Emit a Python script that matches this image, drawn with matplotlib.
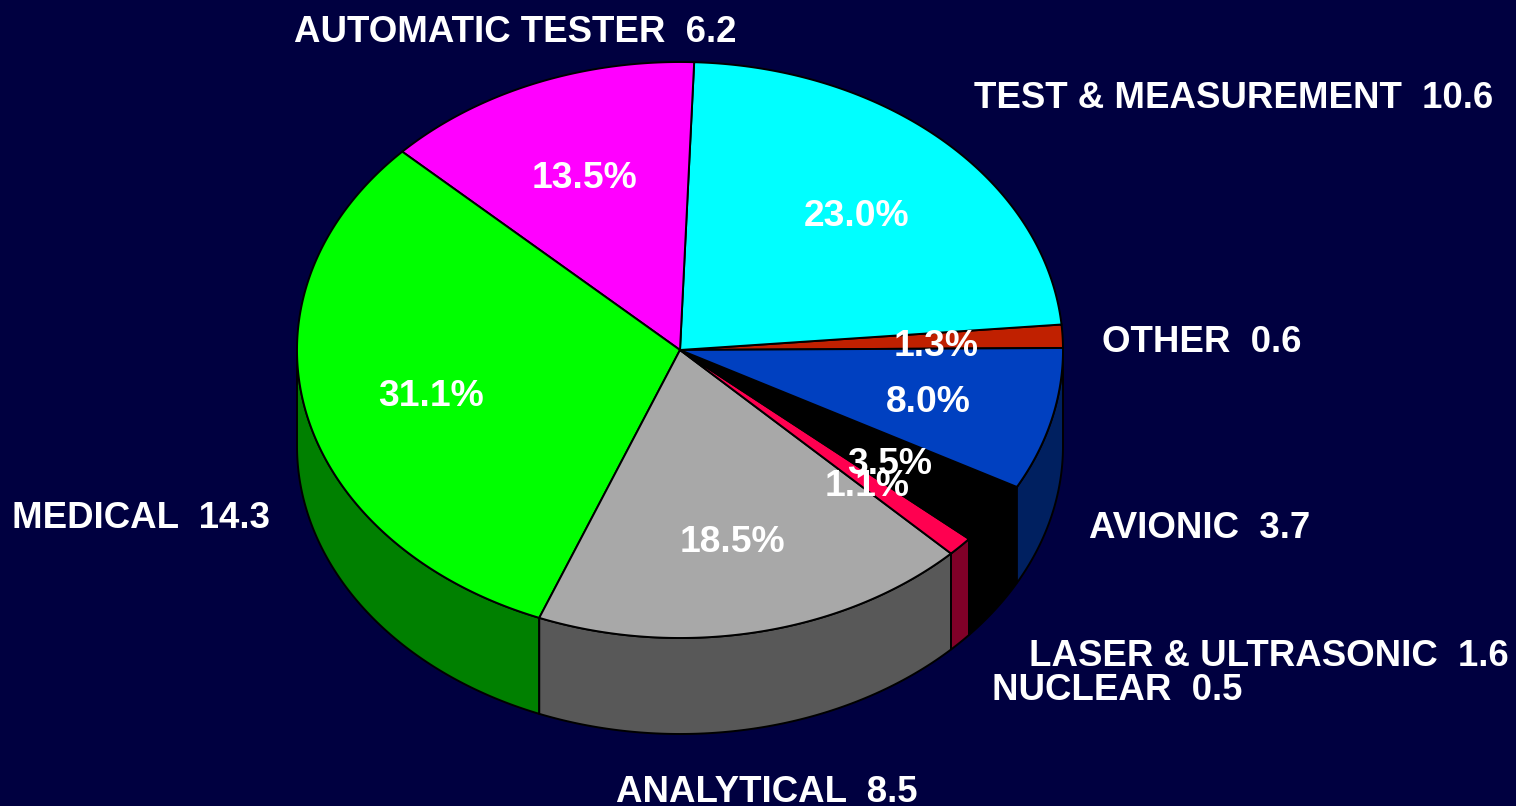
import numpy as np
import matplotlib
matplotlib.use('Agg')
import matplotlib.pyplot as plt

# shares of each segment, counter clockwise from 3 o'clock
names = ['OTHER', 'TEST & MEASUREMENT', 'AUTOMATIC TESTER', 'MEDICAL', 'ANALYTICAL',
         'NUCLEAR', 'LASER & ULTRASONIC', 'AVIONIC']
amounts = ['0.6', '10.6', '6.2', '14.3', '8.5', '0.5', '1.6', '3.7']
shares = [1.3, 23.0, 13.5, 31.1, 18.5, 1.1, 3.5, 8.0]

top_colors = ['#C02000', '#00FFFF', '#FF00FF', '#00FF00', '#A8A8A8', '#FF0050', '#000000', '#0040C0']
side_colors = ['#601000', '#008080', '#800080', '#008000', '#585858', '#800028', '#000000', '#002060']

# label anchors (left edge, vertical centre) and share label centres, in pixels
label_pos = [(1102, 342), (974, 99), (294, 33), (12, 519), (616, 792), (992, 691), (1029, 657), (1089, 529)]
share_pos = [(936, 347), (857, 216), (584, 179), (431, 396), (732, 543), (867, 487), (890, 464), (928, 403)]

W, H = 1516, 806
cx, cy = 680, 350
rx, ry = 383, 288
depth = 96
start = 0.4

plt.rcParams['font.family'] = ['Liberation Sans', 'DejaVu Sans']
fig = plt.figure(figsize=(W / 100, H / 100), dpi=100, facecolor='#000040')
ax = fig.add_axes([0, 0, 1, 1])
ax.set_xlim(0, W)
ax.set_ylim(H, 0)
ax.axis('off')

edges = np.radians(start + np.cumsum([0] + shares) * 3.6)

# side wall, only the front half of the ellipse shows
for i in range(len(shares)):
    a0, a1 = edges[i], edges[i + 1]
    lo, hi = max(a0, np.pi), min(a1, 2 * np.pi)
    if hi <= lo:
        continue
    t = np.linspace(lo, hi, 120)
    x = cx + rx * np.cos(t)
    y = cy - ry * np.sin(t)
    ax.fill(np.r_[x, x[::-1]], np.r_[y, y[::-1] + depth], fc=side_colors[i], ec='black', lw=1.4, zorder=1)

for i in range(len(shares)):
    t = np.linspace(edges[i], edges[i + 1], 200)
    x = np.r_[cx, cx + rx * np.cos(t)]
    y = np.r_[cy, cy - ry * np.sin(t)]
    ax.fill(x, y, fc=top_colors[i], ec='black', lw=1.4, zorder=2)

for i in range(len(shares)):
    ax.text(*label_pos[i], names[i] + '  ' + amounts[i], color='white', fontsize=26.4, fontweight='bold',
            ha='left', va='center', zorder=3)
    ax.text(*share_pos[i], '%.1f%%' % shares[i], color='white', fontsize=26.8, fontweight='bold',
            ha='center', va='center', zorder=3)

fig.savefig('out.png', dpi=100, facecolor=fig.get_facecolor())
